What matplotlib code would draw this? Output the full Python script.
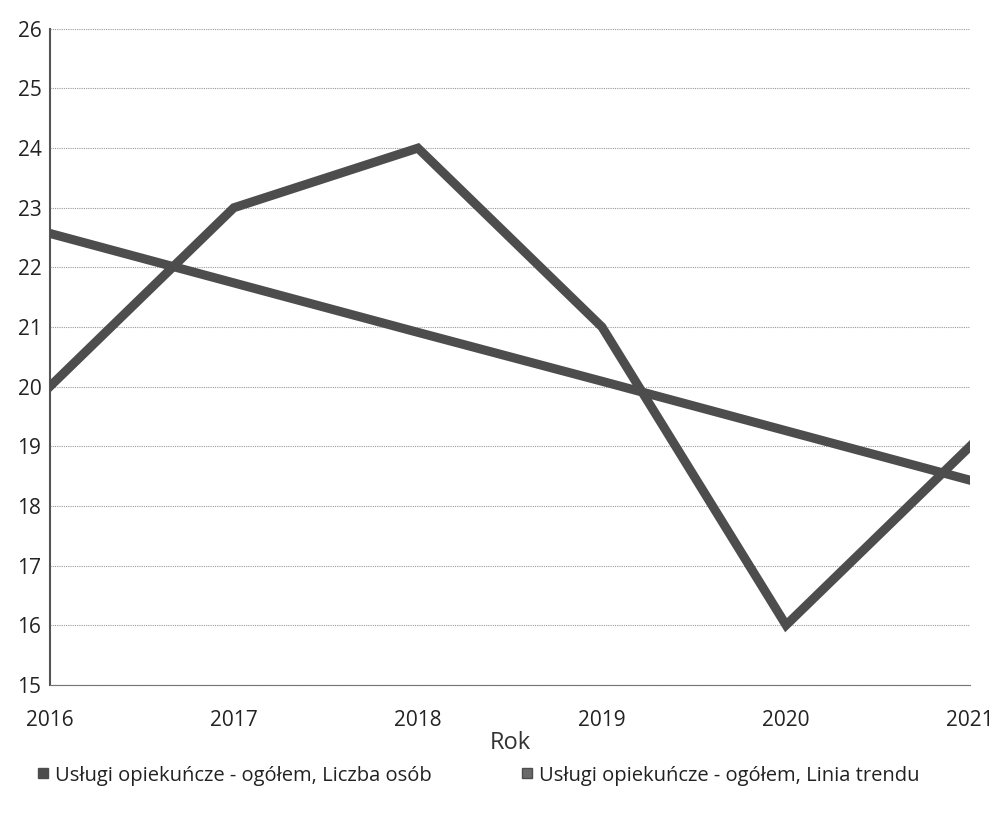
import matplotlib.pyplot as plt
from matplotlib.lines import Line2D

plt.rcParams['font.family'] = ['Open Sans', 'DejaVu Sans']

# dane
lata = [2016, 2017, 2018, 2019, 2020, 2021]
liczba_osob = [20, 23, 24, 21, 16, 19]
linia_trendu = [22.57, 21.74, 20.91, 20.09, 19.26, 18.43]
yticks = list(range(15, 27))

LINE_COLOR = '#4d4d4d'

fig = plt.figure(figsize=(9.95, 8.25), dpi=100)
ax = fig.add_axes([0.05, 0.17, 0.925, 0.795])

ax.plot(lata, liczba_osob, color=LINE_COLOR, lw=6.5, solid_joinstyle='miter', zorder=3)
ax.plot(lata, linia_trendu, color=LINE_COLOR, lw=6.5, zorder=3)

ax.set_xlim(2016, 2021)
ax.set_ylim(15, 26)
ax.set_yticks(yticks)
ax.set_xticks(lata)
ax.tick_params(axis='both', length=0, labelsize=15, colors='#222222')
ax.tick_params(axis='x', pad=18)
ax.tick_params(axis='y', pad=6)
ax.grid(axis='y', linestyle=(0, (1, 1)), color='#9a9a9a', lw=0.8)
ax.grid(axis='x', visible=False)

for s in ['top', 'right']:
    ax.spines[s].set_visible(False)
ax.spines['left'].set_color('#555555')
ax.spines['left'].set_linewidth(1.5)
ax.spines['bottom'].set_color('#777777')
ax.spines['bottom'].set_linestyle((0, (1, 0.5)))

ax.set_xlabel('Rok', fontsize=17, color='#333333', labelpad=0)

handles = [
    Line2D([], [], marker='s', color='none', markerfacecolor=LINE_COLOR,
           markeredgecolor=LINE_COLOR, markersize=7),
    Line2D([], [], marker='s', color='none', markerfacecolor='#6a6a6a',
           markeredgecolor=LINE_COLOR, markersize=7),
]
labels = ['Usługi opiekuńcze - ogółem, Liczba osób',
          'Usługi opiekuńcze - ogółem, Linia trendu']
fig.legend(handles, labels, loc='center left', bbox_to_anchor=(0.015, 0.06),
           ncol=2, frameon=False, fontsize=14.5, handletextpad=0.1,
           columnspacing=4.2, handlelength=1.0, labelcolor='#222222')

fig.savefig('out.png', dpi=100)
